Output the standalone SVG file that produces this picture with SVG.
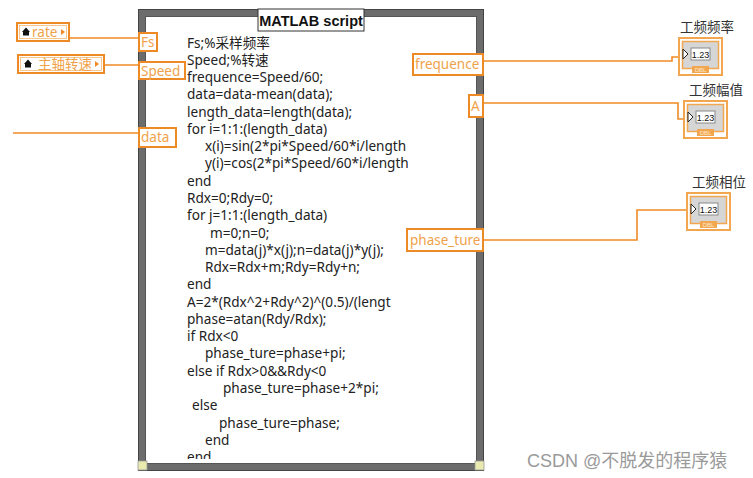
<svg xmlns="http://www.w3.org/2000/svg" width="753" height="478" viewBox="0 0 753 478">
<style>
.code{font-family:"Noto Sans","Noto Sans CJK SC",sans-serif;font-size:13.6px;fill:#222}
.tun{fill:#fff;stroke:#EE8A26;stroke-width:2}
.tt{font-family:"Noto Sans","Noto Sans CJK SC",sans-serif;font-size:13.5px;fill:#F0A24A}
.wire{fill:none;stroke:#EE8A26;stroke-width:1.6}
.lbl{font-family:"Noto Sans CJK SC",sans-serif;font-size:13.5px;fill:#333}
.wm{font-family:"Liberation Sans","Noto Sans CJK SC",sans-serif;font-size:18px;fill:#9a9a9a}
</style>
<defs>
<clipPath id="cc"><rect x="146" y="16" width="262" height="443"/></clipPath>
<g id="ind">
<rect x="0" y="0" width="43" height="37" fill="#fff" stroke="#F2A650" stroke-width="2"/>
<rect x="3.5" y="3.5" width="36" height="27" fill="#d6d6d6" stroke="#F2A650" stroke-width="1.5"/>
<rect x="12" y="10" width="19" height="12" fill="#fff" stroke="#888" stroke-width="1"/>
<text x="21.5" y="19.5" text-anchor="middle" font-family="Liberation Sans,sans-serif" font-size="9" fill="#111">1.23</text>
<path d="M4 11 L9 16 L4 21 Z" fill="#fff" stroke="#222" stroke-width="1"/>
<rect x="13" y="28" width="17" height="7" fill="#F2A650"/>
<text x="21.5" y="34" text-anchor="middle" font-family="Liberation Sans,sans-serif" font-size="6" fill="#fde8cc">DBL</text>
</g>
</defs>
<rect width="753" height="478" fill="#fff"/>

<g id="connectors">
<path class="wire" d="M69 38 H139"/>
<path class="wire" d="M104 65 H139"/>
<path class="wire" d="M13 133 H139"/>
<path class="wire" d="M483 61 H672 V57 H681"/>
<path class="wire" d="M483 103 H678 V119 H687"/>
<path class="wire" d="M483 240 H637 V210 H690"/>
</g>

<g id="script">
<rect x="142" y="13" width="338" height="454" fill="#fff" stroke="#6c6c6c" stroke-width="8"/>
<rect x="138.5" y="9.5" width="345" height="461" fill="none" stroke="#444" stroke-width="1"/>
<rect x="145.5" y="16.5" width="331" height="447" fill="none" stroke="#555" stroke-width="1"/>
<rect x="138" y="461" width="9" height="9" fill="#e8eab0" stroke="#999" stroke-width="0.8"/>
<rect x="475" y="461" width="9" height="9" fill="#e8eab0" stroke="#999" stroke-width="0.8"/>
<rect x="258" y="9" width="106" height="22" fill="#fff" stroke="#333" stroke-width="1"/>
<text x="311" y="26" text-anchor="middle" font-family="Liberation Sans,sans-serif" font-weight="bold" font-size="14.5" fill="#111">MATLAB script</text>
<g clip-path="url(#cc)" class="code">
<text x="187" y="47.5">Fs;%采样频率</text>
<text x="187" y="64.8">Speed;%转速</text>
<text x="187" y="82">frequence=Speed/60;</text>
<text x="187" y="99.3">data=data-mean(data);</text>
<text x="187" y="116.6">length_data=length(data);</text>
<text x="187" y="133.9">for i=1:1:(length_data)</text>
<text x="205" y="151.1">x(i)=sin(2*pi*Speed/60*i/length</text>
<text x="205" y="168.4">y(i)=cos(2*pi*Speed/60*i/length</text>
<text x="187" y="185.7">end</text>
<text x="187" y="202.9">Rdx=0;Rdy=0;</text>
<text x="187" y="220.2">for j=1:1:(length_data)</text>
<text x="210" y="237.5">m=0;n=0;</text>
<text x="205" y="254.7">m=data(j)*x(j);n=data(j)*y(j);</text>
<text x="205" y="272">Rdx=Rdx+m;Rdy=Rdy+n;</text>
<text x="187" y="289.3">end</text>
<text x="187" y="306.6">A=2*(Rdx^2+Rdy^2)^(0.5)/(lengt</text>
<text x="187" y="323.8">phase=atan(Rdy/Rdx);</text>
<text x="187" y="341.1">if Rdx&lt;0</text>
<text x="205" y="358.4">phase_ture=phase+pi;</text>
<text x="187" y="375.6">else if Rdx&gt;0&amp;&amp;Rdy&lt;0</text>
<text x="223" y="392.9">phase_ture=phase+2*pi;</text>
<text x="192" y="410.2">else</text>
<text x="219" y="427.5">phase_ture=phase;</text>
<text x="205" y="444.7">end</text>
<text x="187" y="462">end</text>
</g>
</g>

<g id="ctl-rate">
<rect x="17" y="23" width="52" height="18" fill="#fff" stroke="#EE8A26" stroke-width="2"/>
<rect x="19.5" y="25.5" width="47" height="13" fill="none" stroke="#F6B870" stroke-width="0.8"/>
<path d="M22 32 L26 27.5 L30 32 H29 V35.5 H23 V32 Z" fill="#111"/>
<text x="32" y="37" class="tt" font-size="12.5">rate</text>
<path d="M61 29 L65 32 L61 35 Z" fill="#EE8A26"/>
</g>
<g id="ctl-speed">
<rect x="18" y="55" width="86" height="18" fill="#fff" stroke="#EE8A26" stroke-width="2"/>
<rect x="20.5" y="57.5" width="81" height="13" fill="none" stroke="#F6B870" stroke-width="0.8"/>
<path d="M24 64 L28 59.5 L32 64 H31 V67.5 H25 V64 Z" fill="#111"/>
<text x="38" y="69" class="tt" font-family="Noto Sans CJK SC,sans-serif" font-size="12.5">主轴转速</text>
<path d="M95 61 L99 64 L95 67 Z" fill="#EE8A26"/>
</g>

<g id="t-fs"><rect class="tun" x="139" y="33" width="18" height="18"/><text class="tt" x="141" y="47">Fs</text></g>
<g id="t-speed"><rect class="tun" x="139" y="62" width="46" height="17"/><text class="tt" x="141" y="75.5">Speed</text></g>
<g id="t-data"><rect class="tun" x="139" y="128" width="37" height="19"/><text class="tt" x="141" y="142">data</text></g>
<g id="t-freq"><rect class="tun" x="413" y="54" width="70" height="21"/><text class="tt" x="415" y="69">frequence</text></g>
<g id="t-a"><rect class="tun" x="469" y="95" width="14" height="22"/><text class="tt" x="471" y="111">A</text></g>
<g id="t-phase"><rect class="tun" x="407" y="229" width="76" height="22"/><text class="tt" x="410" y="245">phase_ture</text></g>

<g id="ind-freq"><text class="lbl" x="680" y="32">工频频率</text><use href="#ind" x="679" y="38"/></g>
<g id="ind-amp"><text class="lbl" x="689" y="95">工频幅值</text><use href="#ind" x="684" y="101"/></g>
<g id="ind-phase"><text class="lbl" x="692" y="187">工频相位</text><use href="#ind" x="687" y="193"/></g>

<text class="wm" x="527" y="467">CSDN @不脱发的程序猿</text>
</svg>
